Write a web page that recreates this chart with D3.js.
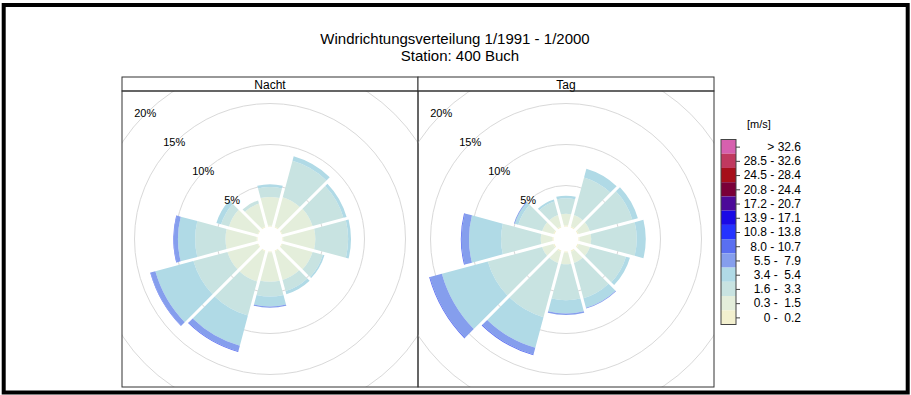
<!DOCTYPE html>
<html>
<head>
<meta charset="utf-8">
<script src="https://cdn.jsdelivr.net/npm/d3@7/dist/d3.min.js"></script>
<style>
  body { margin: 0; background: #fff; }
  svg { display: block; font-family: "Liberation Sans", Arial, sans-serif; }
</style>
</head>
<body>
<svg id="chart" width="911" height="395"></svg>
<script>
(function (d3) {
    "use strict";

    /***** Données *****/

    // Richtungssektoren (Grad, im Uhrzeigersinn ab Nord)
    const directions = [0, 30, 60, 90, 120, 150, 180, 210, 240, 270, 300, 330];

    // Geschwindigkeitsklassen [m/s], von unten nach oben
    const speedClasses = ["0 - 0.2", "0.3 - 1.5", "1.6 - 3.3", "3.4 - 5.4", "5.5 - 7.9",
        "8.0 - 10.7", "10.8 - 13.8", "13.9 - 17.1", "17.2 - 20.7", "20.8 - 24.4",
        "24.5 - 28.4", "28.5 - 32.6", "> 32.6"];

    const classColors = ["#f3f0cf", "#e4eedb", "#c8e3e1", "#b0dae6", "#859eed",
        "#5a6ff0", "#2533ff", "#1a0ae6", "#4c0a99", "#7a0038",
        "#a60f1a", "#c0395f", "#d660ae"];

    // Häufigkeit [%] je Richtung und Klasse (nur Klassen bis 8.0 - 10.7 belegt)
    const nachtFreq = [
        [0.1, 3.5, 1.2, 0.35, 0, 0],
        [0.1, 3.7, 4.6, 0.56, 0, 0],
        [0.1, 3.8, 3.9, 0.4, 0, 0],
        [0.1, 3.9, 4.0, 0.35, 0, 0],
        [0.1, 3.8, 1.3, 0.2, 0, 0],
        [0.1, 3.6, 1.4, 0.4, 0, 0],
        [0.1, 3.6, 1.8, 1.2, 0.15, 0],
        [0.1, 3.8, 4.3, 3.8, 0.7, 0.1],
        [0.1, 3.8, 4.3, 4.8, 0.6, 0.05],
        [0.1, 3.8, 3.7, 2.1, 0.5, 0.07],
        [0.1, 3.6, 1.0, 0.6, 0, 0],
        [0.1, 2.9, 0.4, 0, 0, 0]
    ];

    const tagFreq = [
        [0.15, 1.4, 1.9, 0.3, 0, 0],
        [0.15, 1.4, 4.75, 1.1, 0, 0],
        [0.15, 1.4, 5.35, 0.7, 0, 0],
        [0.15, 1.4, 5.55, 1.1, 0, 0],
        [0.15, 1.4, 4.55, 0.5, 0, 0],
        [0.15, 1.4, 4.45, 1.2, 0.1, 0],
        [0.15, 1.4, 4.4, 1.6, 0.2, 0],
        [0.15, 1.4, 6.85, 3.85, 0.85, 0.1],
        [0.15, 1.4, 6.85, 5.8, 1.5, 0.1],
        [0.15, 1.4, 4.85, 3.9, 0.9, 0.1],
        [0.15, 1.4, 3.0, 0.45, 0.1, 0],
        [0.15, 1.4, 1.7, 0.25, 0, 0]
    ];

    const panelNames = ["Nacht", "Tag"];
    const gridPct = [5, 10, 15, 20, 25];
    const labelPct = [5, 10, 15, 20];

    /***** Configuration *****/

    const svg = d3.select("#chart");
    const panel_top = 77, strip_h = 14, panel_size = 296;
    const panel_x = [122, 418];
    const hole = 12.5;

    var r = d3.scaleLinear().domain([0, 20]).range([hole, 176.5]);

    // Rahmen
    svg.append("rect")
        .attr("x", 3.7).attr("y", 5).attr("width", 904).attr("height", 387.5)
        .attr("fill", "none").attr("stroke", "#000").attr("stroke-width", 4);

    // Titel
    svg.append("text").attr("x", 455).attr("y", 44)
        .attr("text-anchor", "middle").attr("font-size", 15)
        .text("Windrichtungsverteilung 1/1991 - 1/2000");
    svg.append("text").attr("x", 460).attr("y", 61)
        .attr("text-anchor", "middle").attr("font-size", 15)
        .text("Station: 400 Buch");

    var arc = d3.arc()
        .innerRadius(d => r(d[0]))
        .outerRadius(d => r(d[1]))
        .startAngle(d => (d.data.dir - 15) * Math.PI / 180)
        .endAngle(d => (d.data.dir + 15) * Math.PI / 180)
        .padAngle(0.03)
        .padRadius(100);

    var keys = d3.range(6);
    var stack = d3.stack().keys(keys).value((row, k) => row.v[k]);

    [nachtFreq, tagFreq].forEach(function (freq, i) {
        var x0 = panel_x[i];
        var y0 = panel_top + strip_h;
        var cx = x0 + panel_size / 2, cy = y0 + panel_size / 2;

        svg.append("clipPath").attr("id", "clip" + i)
            .append("rect").attr("x", x0).attr("y", y0)
            .attr("width", panel_size).attr("height", panel_size);

        var g = svg.append("g").attr("clip-path", "url(#clip" + i + ")");
        var rose = g.append("g").attr("transform", "translate(" + cx + "," + cy + ")");

        rose.selectAll("circle.grid")
            .data(gridPct)
            .enter().append("circle")
            .attr("class", "grid")
            .attr("r", d => r(d))
            .attr("fill", "none")
            .attr("stroke", "#d9d9d9")
            .attr("stroke-width", 1);

        var rows = directions.map((dir, j) => ({ dir: dir, v: freq[j] }));
        var series = stack(rows);

        rose.selectAll("g.band")
            .data(series)
            .enter().append("g")
            .attr("class", "band")
            .attr("fill", d => classColors[d.key])
            .selectAll("path")
            .data(d => d.filter(s => s[1] - s[0] > 0))
            .enter().append("path")
            .attr("d", arc);

        rose.selectAll("text.pct")
            .data(labelPct)
            .enter().append("text")
            .attr("class", "pct")
            .attr("x", d => -r(d) * Math.SQRT1_2)
            .attr("y", d => -r(d) * Math.SQRT1_2)
            .attr("text-anchor", "middle")
            .attr("dominant-baseline", "middle")
            .attr("font-size", 11)
            .text(d => d + "%");

        // Streifen und Rahmen
        svg.append("rect")
            .attr("x", x0).attr("y", panel_top)
            .attr("width", panel_size).attr("height", strip_h)
            .attr("fill", "#fff").attr("stroke", "#333").attr("stroke-width", 1);
        svg.append("text")
            .attr("x", cx).attr("y", panel_top + 11.5)
            .attr("text-anchor", "middle").attr("font-size", 12)
            .text(panelNames[i]);
        svg.append("rect")
            .attr("x", x0).attr("y", y0)
            .attr("width", panel_size).attr("height", panel_size)
            .attr("fill", "none").attr("stroke", "#333").attr("stroke-width", 1);
    });

    /***** Legende *****/

    var legend = svg.append("g");
    var legendOrder = speedClasses.map((s, i) => i).reverse();
    var yLeg = d3.scaleBand().domain(legendOrder).range([139.5, 324.5]);

    legend.append("text").attr("x", 747).attr("y", 128)
        .attr("font-size", 11).text("[m/s]");

    legend.selectAll("rect.cell")
        .data(legendOrder)
        .enter().append("rect")
        .attr("class", "cell")
        .attr("x", 721).attr("width", 15)
        .attr("y", d => yLeg(d))
        .attr("height", yLeg.bandwidth())
        .attr("fill", d => classColors[d]);

    legend.append("rect")
        .attr("x", 721).attr("y", 139.5).attr("width", 15).attr("height", 185)
        .attr("fill", "none").attr("stroke", "#444").attr("stroke-width", 1);

    var padLabel = function (s) {
        if (s[0] === ">") return s;
        var p = s.split(" - ");
        var a = p[0].length < 3 ? " " + p[0] : p[0];
        var b = p[1].length < 4 ? " " + p[1] : p[1];
        return a + " - " + b;
    };

    var axis = d3.axisRight(d3.scalePoint().domain(legendOrder)
            .range([139.5 + yLeg.bandwidth() / 2, 324.5 - yLeg.bandwidth() / 2]))
        .tickSize(4)
        .tickFormat(d => padLabel(speedClasses[d]));

    var ax = legend.append("g")
        .attr("transform", "translate(736,0)")
        .call(axis);
    ax.select(".domain").remove();
    ax.selectAll("line").attr("stroke", "#444");
    ax.selectAll("text")
        .attr("x", 65)
        .attr("text-anchor", "end")
        .attr("font-size", 12)
        .attr("font-family", "Liberation Sans, Arial, sans-serif")
        .style("white-space", "pre")
        .attr("fill", "#000");

})(d3);
</script>
</body>
</html>
